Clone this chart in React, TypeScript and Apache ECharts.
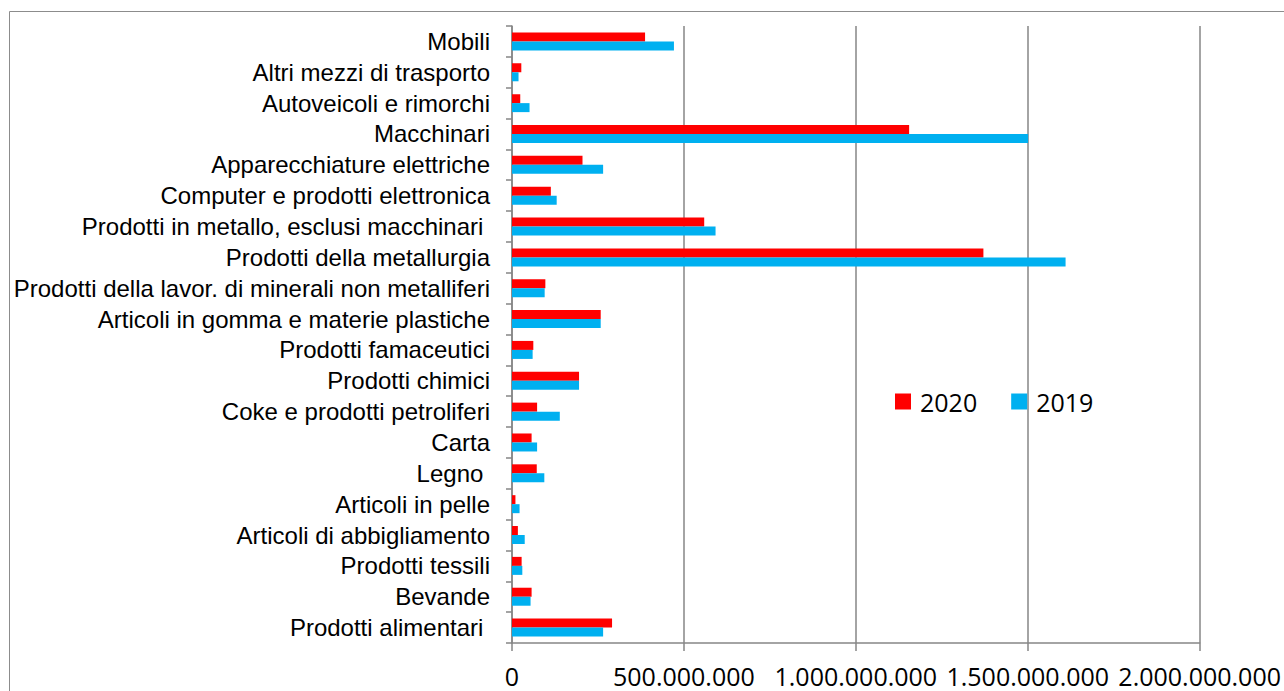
import React, { useEffect, useRef } from "react";
import * as echarts from "echarts";

const categories = [
  "Prodotti alimentari ",
  "Bevande",
  "Prodotti tessili",
  "Articoli di abbigliamento",
  "Articoli in pelle",
  "Legno ",
  "Carta",
  "Coke e prodotti petroliferi",
  "Prodotti chimici",
  "Prodotti famaceutici",
  "Articoli in gomma e materie plastiche",
  "Prodotti della lavor. di minerali non metalliferi",
  "Prodotti della metallurgia",
  "Prodotti in metallo, esclusi macchinari ",
  "Computer e prodotti elettronica",
  "Apparecchiature elettriche",
  "Macchinari",
  "Autoveicoli e rimorchi",
  "Altri mezzi di trasporto",
  "Mobili",
];

const values2020 = [
  291000000, 57000000, 28000000, 17000000, 10000000, 72000000, 57000000, 73000000,
  195000000, 62000000, 258000000, 97000000, 1371000000, 559000000, 113000000,
  205000000, 1155000000, 24000000, 27000000, 387000000,
];

const values2019 = [
  265000000, 54000000, 30000000, 37000000, 22000000, 94000000, 73000000, 139000000,
  195000000, 60000000, 258000000, 95000000, 1610000000, 592000000, 130000000,
  265000000, 1501000000, 51000000, 19000000, 471000000,
];

const seriesNames = ["2020", "2019"];
const xTicks = { min: 0, max: 2000000000, interval: 500000000 };

const fmt = (v: number) => {
  if (v === 0) return "0";
  return String(Math.round(v)).replace(/\B(?=(\d{3})+(?!\d))/g, ".");
};

export default function App() {
  const ref = useRef<HTMLDivElement>(null);
  useEffect(() => {
    if (!ref.current) return;
    const chart = echarts.init(ref.current, undefined, { renderer: "svg" });
    const gray = "#868686";
    chart.setOption({
      animation: false,
      backgroundColor: "#ffffff",
      graphic: [
        {
          type: "rect",
          shape: { x: 9.5, y: 11.5, width: 1300, height: 700 },
          style: { fill: "none", stroke: "#8c8c8c", lineWidth: 1 },
          silent: true,
          z: -10,
        },
      ],
      legend: {
        data: seriesNames,
        left: 895,
        top: 389,
        padding: 0,
        itemWidth: 16,
        itemHeight: 16,
        itemGap: 34,
        icon: "rect",
        textStyle: {
          fontFamily: "Open Sans",
          fontSize: 25,
          color: "#000",
          padding: [0, 0, 0, 4],
        },
      },
      grid: { left: 512, right: 82, top: 26, bottom: 48, containLabel: false },
      xAxis: {
        type: "value",
        min: xTicks.min,
        max: xTicks.max,
        interval: xTicks.interval,
        axisLine: { show: true, lineStyle: { color: gray, width: 1.5 } },
        axisTick: { show: true, length: 8, lineStyle: { color: gray, width: 1.5 } },
        splitLine: { show: true, lineStyle: { color: gray, width: 1.5 } },
        axisLabel: {
          formatter: fmt,
          fontFamily: "Open Sans",
          fontSize: 25,
          color: "#000",
          margin: 20,
        },
      },
      yAxis: {
        type: "category",
        data: categories,
        axisLine: { show: true, lineStyle: { color: gray, width: 1.5 } },
        axisTick: { show: true, length: 6, lineStyle: { color: gray, width: 1.5 } },
        axisLabel: {
          fontFamily: "Liberation Sans, Arial",
          fontSize: 24,
          color: "#000",
          margin: 22,
          interval: 0,
        },
      },
      series: [
        {
          name: seriesNames[0],
          type: "bar",
          data: values2020,
          barWidth: 9,
          barGap: "0%",
          itemStyle: { color: "#FF0000" },
        },
        {
          name: seriesNames[1],
          type: "bar",
          data: values2019,
          barWidth: 9,
          barGap: "0%",
          itemStyle: { color: "#00B0F0" },
        },
      ],
    });
    return () => chart.dispose();
  }, []);
  return (
    <div
      ref={ref}
      style={{ position: "fixed", left: 0, top: 0, width: 1284, height: 691 }}
    />
  );
}
